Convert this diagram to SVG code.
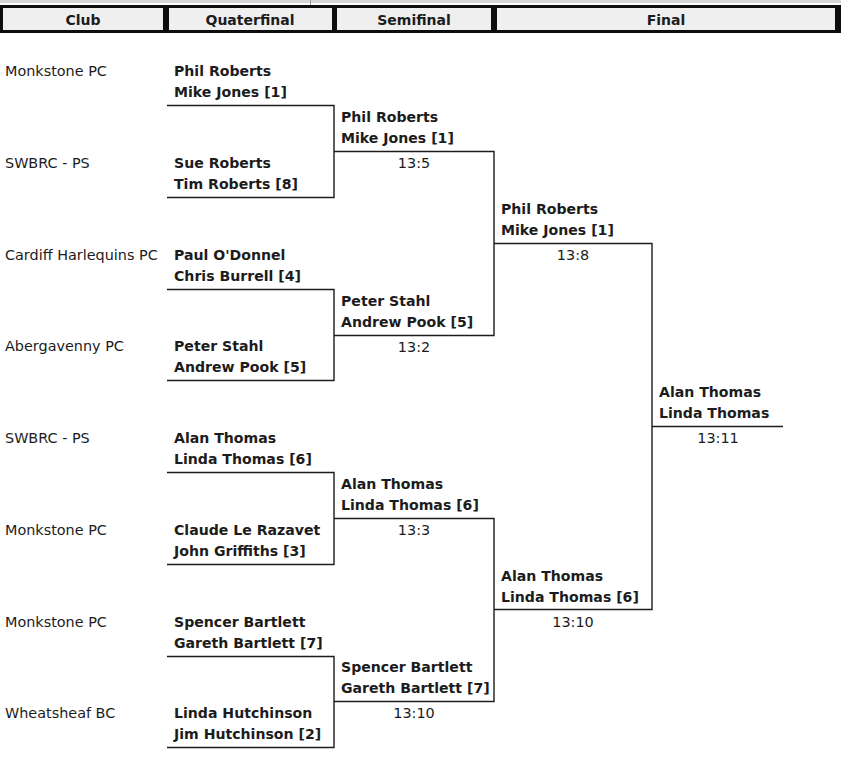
<svg xmlns="http://www.w3.org/2000/svg" width="841" height="764" viewBox="0 0 841 764">
<style>
text{font-family:"DejaVu Sans","Liberation Sans",sans-serif;font-size:14.4px;fill:#1c1c1c}
.b{font-weight:bold;font-size:14.1px}
.h{font-weight:bold;font-size:14px;text-anchor:middle}
.s{text-anchor:middle}
.cell{fill:#efefef}
#connectors path{fill:none;stroke:#1c1c1c;stroke-width:1.4}
</style>
<rect width="841" height="764" fill="#fff"/>
<rect x="0" y="0" width="841" height="3" fill="#d6d6d6"/>
<line x1="310.5" y1="0" x2="310.5" y2="5" stroke="#9a9a9a"/>
<g id="header">
<rect x="0" y="5" width="841" height="28" fill="#0d0d0d"/>
<rect class="cell" x="3" y="8" width="160" height="22"/>
<rect class="cell" x="169" y="8" width="163" height="22"/>
<rect class="cell" x="337" y="8" width="154" height="22"/>
<rect class="cell" x="497" y="8" width="338" height="22"/>
<text class="h" x="83" y="25">Club</text>
<text class="h" x="250" y="25">Quaterfinal</text>
<text class="h" x="414" y="25">Semifinal</text>
<text class="h" x="666" y="25">Final</text>
</g>
<g id="clubs">
<text x="5" y="76">Monkstone PC</text>
<text x="5" y="168">SWBRC - PS</text>
<text x="5" y="260">Cardiff Harlequins PC</text>
<text x="5" y="351">Abergavenny PC</text>
<text x="5" y="443">SWBRC - PS</text>
<text x="5" y="535">Monkstone PC</text>
<text x="5" y="627">Monkstone PC</text>
<text x="5" y="718">Wheatsheaf BC</text>
</g>
<g id="qf1"><text class="b" x="174" y="76">Phil Roberts</text><text class="b" x="174" y="97">Mike Jones [1]</text></g>
<g id="qf2"><text class="b" x="174" y="168">Sue Roberts</text><text class="b" x="174" y="189">Tim Roberts [8]</text></g>
<g id="qf3"><text class="b" x="174" y="260">Paul O'Donnel</text><text class="b" x="174" y="281">Chris Burrell [4]</text></g>
<g id="qf4"><text class="b" x="174" y="351">Peter Stahl</text><text class="b" x="174" y="372">Andrew Pook [5]</text></g>
<g id="qf5"><text class="b" x="174" y="443">Alan Thomas</text><text class="b" x="174" y="464">Linda Thomas [6]</text></g>
<g id="qf6"><text class="b" x="174" y="535">Claude Le Razavet</text><text class="b" x="174" y="556">John Griffiths [3]</text></g>
<g id="qf7"><text class="b" x="174" y="627">Spencer Bartlett</text><text class="b" x="174" y="648">Gareth Bartlett [7]</text></g>
<g id="qf8"><text class="b" x="174" y="718">Linda Hutchinson</text><text class="b" x="174" y="739">Jim Hutchinson [2]</text></g>
<g id="sf1"><text class="b" x="341" y="122">Phil Roberts</text><text class="b" x="341" y="143">Mike Jones [1]</text><text class="s" x="414" y="168">13:5</text></g>
<g id="sf2"><text class="b" x="341" y="306">Peter Stahl</text><text class="b" x="341" y="327">Andrew Pook [5]</text><text class="s" x="414" y="352">13:2</text></g>
<g id="sf3"><text class="b" x="341" y="489">Alan Thomas</text><text class="b" x="341" y="510">Linda Thomas [6]</text><text class="s" x="414" y="535">13:3</text></g>
<g id="sf4"><text class="b" x="341" y="672">Spencer Bartlett</text><text class="b" x="341" y="693">Gareth Bartlett [7]</text><text class="s" x="414" y="718">13:10</text></g>
<g id="r3a"><text class="b" x="501" y="214">Phil Roberts</text><text class="b" x="501" y="235">Mike Jones [1]</text><text class="s" x="573" y="260">13:8</text></g>
<g id="r3b"><text class="b" x="501" y="581">Alan Thomas</text><text class="b" x="501" y="602">Linda Thomas [6]</text><text class="s" x="573" y="627">13:10</text></g>
<g id="final"><text class="b" x="659" y="397">Alan Thomas</text><text class="b" x="659" y="418">Linda Thomas</text><text class="s" x="718" y="443">13:11</text></g>
<g id="connectors">
<path d="M167 105.5H334V197.5H167"/>
<path d="M167 289.5H334V380.5H167"/>
<path d="M167 472.5H334V564.5H167"/>
<path d="M167 656.5H334V747.5H167"/>
<path d="M334 151.5H494V335.5H334"/>
<path d="M334 518.5H494V701.5H334"/>
<path d="M494 243.5H652V609.5H494"/>
<path d="M652 426.5H783"/>
</g>
</svg>
